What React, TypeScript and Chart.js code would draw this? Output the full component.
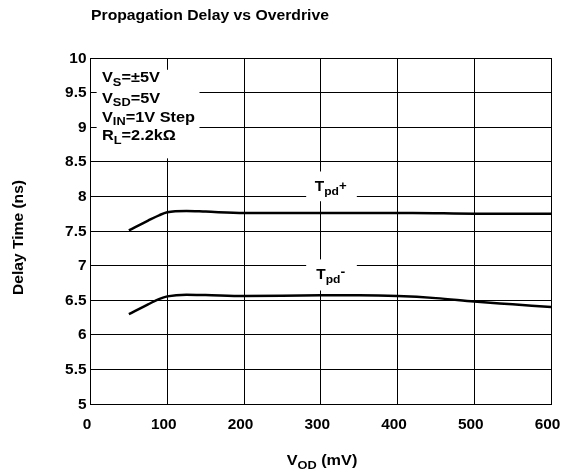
import React, { useEffect, useRef } from "react";
import { Chart, registerables } from "chart.js";

Chart.register(...registerables);

const xPlus = [50, 75, 90, 100, 125, 150, 200, 300, 420, 500, 600];
const tpdPlus = [7.51, 7.65, 7.73, 7.77, 7.79, 7.78, 7.76, 7.76, 7.76, 7.75, 7.75];
const xMinus = [50, 75, 90, 100, 125, 150, 200, 300, 350, 400, 450, 500, 550, 600];
const tpdMinus = [6.3, 6.44, 6.52, 6.555, 6.58, 6.575, 6.56, 6.57, 6.57, 6.56, 6.53, 6.48, 6.44, 6.4];
const xTicks = [0, 100, 200, 300, 400, 500, 600];
const yTicks = [5, 5.5, 6, 6.5, 7, 7.5, 8, 8.5, 9, 9.5, 10];

const FONT = '"Liberation Sans", Arial, sans-serif';

type Part = { t: string; size: number; dy: number };

function partsWidth(ctx: CanvasRenderingContext2D, parts: Part[]) {
  let total = 0;
  for (const p of parts) {
    ctx.font = `bold ${p.size}px ${FONT}`;
    total += ctx.measureText(p.t).width;
  }
  return total;
}

function drawRich(
  ctx: CanvasRenderingContext2D,
  x: number,
  y: number,
  parts: Part[],
  align: "left" | "center" | "right" = "left",
  sx = 1
) {
  ctx.save();
  ctx.fillStyle = "#000";
  ctx.textBaseline = "alphabetic";
  ctx.textAlign = "left";
  const total = partsWidth(ctx, parts) * sx;
  const start = align === "center" ? x - total / 2 : align === "right" ? x - total : x;
  ctx.translate(start, y);
  ctx.scale(sx, 1);
  let cx = 0;
  for (const p of parts) {
    ctx.font = `bold ${p.size}px ${FONT}`;
    ctx.fillText(p.t, cx, p.dy);
    cx += ctx.measureText(p.t).width;
  }
  ctx.restore();
}

const labelsPlugin = {
  id: "labelsPlugin",
  afterDatasetsDraw(chart: any) {
    const ctx = chart.ctx as CanvasRenderingContext2D;
    const xs = chart.scales.x;
    const ys = chart.scales.y;
    ctx.save();
    ctx.fillStyle = "#fff";
    const rect = (x1: number, x2: number, y1: number, y2: number) => {
      const px1 = xs.getPixelForValue(x1);
      const px2 = xs.getPixelForValue(x2);
      const py1 = ys.getPixelForValue(y1);
      const py2 = ys.getPixelForValue(y2);
      ctx.fillRect(px1, py1, px2 - px1, py2 - py1);
    };
    rect(8, 142, 9.83, 8.55);
    rect(281, 347, 8.36, 7.93);
    rect(281, 347, 7.09, 6.64);
    ctx.restore();

    // tick labels
    const tickSx = 1.1;
    for (const v of xTicks) {
      drawRich(ctx, xs.getPixelForValue(v) - 3.5, 428.5, [{ t: String(v), size: 14, dy: 0 }], "center", tickSx);
    }
    for (const v of yTicks) {
      drawRich(ctx, 86.5, ys.getPixelForValue(v) + 4.5, [{ t: String(v), size: 14, dy: 0 }], "right", tickSx);
    }

    // condition box
    const l1: Part[] = [
      { t: "V", size: 14, dy: 0 },
      { t: "S", size: 11, dy: 3.5 },
      { t: "=±5V", size: 14, dy: 0 },
    ];
    const l2: Part[] = [
      { t: "V", size: 14, dy: 0 },
      { t: "SD", size: 11, dy: 3.5 },
      { t: "=5V", size: 14, dy: 0 },
    ];
    const l3: Part[] = [
      { t: "V", size: 14, dy: 0 },
      { t: "IN", size: 11, dy: 3.5 },
      { t: "=1V Step", size: 14, dy: 0 },
    ];
    const l4: Part[] = [
      { t: "R", size: 14, dy: 0 },
      { t: "L", size: 11, dy: 3.5 },
      { t: "=2.2kΩ", size: 14, dy: 0 },
    ];
    const boxSx = 93 / partsWidth(ctx, l3);
    const lx = 102;
    drawRich(ctx, lx, 82.3, l1, "left", boxSx);
    drawRich(ctx, lx, 102.7, l2, "left", boxSx);
    drawRich(ctx, lx, 121.7, l3, "left", boxSx);
    drawRich(ctx, lx, 140, l4, "left", boxSx);

    const cx = xs.getPixelForValue(300) + 10;
    drawRich(ctx, cx, 190.7, [
      { t: "T", size: 14, dy: 0 },
      { t: "pd", size: 11, dy: 4 },
      { t: "+", size: 12, dy: -1 },
    ], "center", 1.1);
    drawRich(ctx, cx, 279, [
      { t: "T", size: 14, dy: 0 },
      { t: "pd", size: 11, dy: 4 },
      { t: "-", size: 13, dy: -3 },
    ], "center", 1.1);

    // title
    const tParts: Part[] = [{ t: "Propagation Delay vs Overdrive", size: 15, dy: 0 }];
    drawRich(ctx, 91, 20, tParts, "left", 238 / partsWidth(ctx, tParts));

    // y title
    const yParts: Part[] = [{ t: "Delay Time (ns)", size: 14, dy: 0 }];
    const ySx = 115 / partsWidth(ctx, yParts);
    ctx.save();
    ctx.translate(23, 237.5);
    ctx.rotate(-Math.PI / 2);
    drawRich(ctx, 0, 0, yParts, "center", ySx);
    ctx.restore();

    // x title
    const xParts: Part[] = [
      { t: "V", size: 14, dy: 0 },
      { t: "OD", size: 11, dy: 3.5 },
      { t: " (mV)", size: 14, dy: 0 },
    ];
    drawRich(ctx, 286.7, 465, xParts, "left", 70.6 / partsWidth(ctx, xParts));
  },
};

export default function App() {
  const ref = useRef<HTMLCanvasElement | null>(null);
  useEffect(() => {
    if (!ref.current) return;
    const chart = new Chart(ref.current, {
      type: "line",
      data: {
        datasets: [
          {
            label: "Tpd+",
            data: xPlus.map((x, i) => ({ x, y: tpdPlus[i] })),
            borderColor: "#000",
            borderWidth: 2.5,
            pointRadius: 0,
            cubicInterpolationMode: "monotone",
            fill: false,
          },
          {
            label: "Tpd-",
            data: xMinus.map((x, i) => ({ x, y: tpdMinus[i] })),
            borderColor: "#000",
            borderWidth: 2.5,
            pointRadius: 0,
            cubicInterpolationMode: "monotone",
            fill: false,
          },
        ],
      },
      options: {
        responsive: false,
        animation: false,
        layout: { padding: { left: 0, top: 58, right: 12, bottom: 0 } },
        plugins: { legend: { display: false }, tooltip: { enabled: false }, title: { display: false } },
        scales: {
          x: {
            type: "linear",
            min: 0,
            max: 600,
            ticks: { stepSize: 100, display: false },
            grid: { color: "#000", lineWidth: 1, drawTicks: false },
            border: { color: "#000", width: 1 },
            afterFit: (s: any) => {
              s.height = 69;
              s.paddingLeft = 0;
              s.paddingRight = 0;
            },
          },
          y: {
            type: "linear",
            min: 5,
            max: 10,
            ticks: { stepSize: 0.5, display: false },
            grid: { color: "#000", lineWidth: 1, drawTicks: false },
            border: { color: "#000", width: 1 },
            afterFit: (s: any) => {
              s.width = 90.5;
              s.paddingTop = 0;
              s.paddingBottom = 0;
            },
          },
        },
      },
      plugins: [labelsPlugin],
    } as any);
    return () => chart.destroy();
  }, []);
  return (
    <div style={{ position: "absolute", left: 0, top: 0, width: 563, height: 473, background: "#fff" }}>
      <canvas ref={ref} width={563} height={473} style={{ display: "block" }} />
    </div>
  );
}
